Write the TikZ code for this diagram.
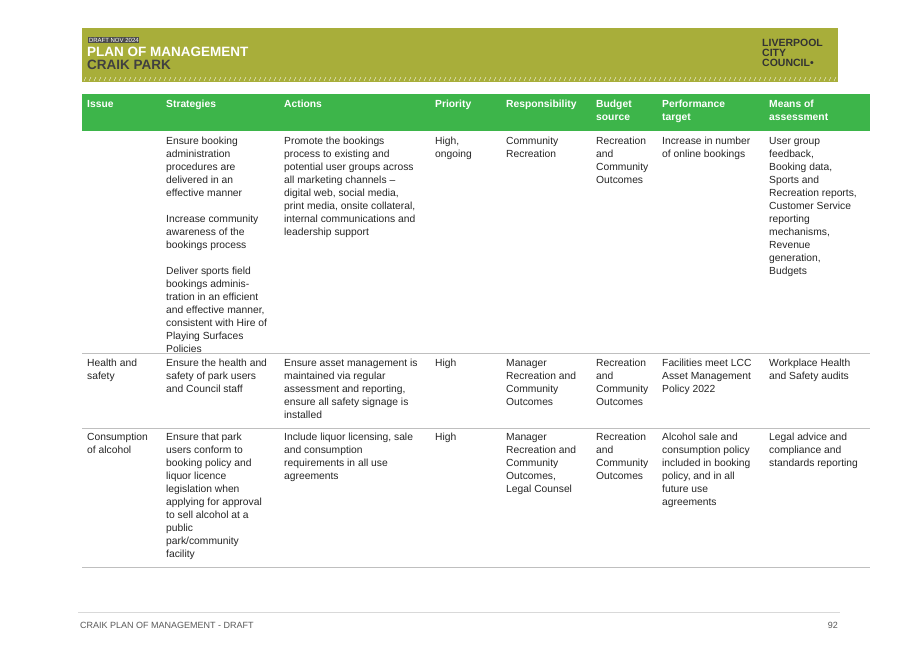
\documentclass[tikz,border=0pt]{standalone}
\usepackage{fontspec}
\setmainfont{Liberation Sans}
\begin{document}
\begin{tikzpicture}[x=1pt,y=-1pt,
 cell/.style={anchor=north west,inner sep=0pt,align=left,font=\fontsize{10.3}{13}\selectfont,text=black!85},
 hd/.style={cell,text=white,font=\fontsize{10.3}{13}\selectfont\bfseries},
 sep/.style={draw=black!25,line width=0.6pt}]
\useasboundingbox (0,0) rectangle (917,648);
\fill[white] (0,0) rectangle (917,648);
% banner
\fill[fill={rgb,255:red,168;green,174;blue,58}] (82,28) rectangle (838,82);
\foreach \i in {0,...,150} \draw[white!70!black!10,line width=0.4pt] (84+\i*5,81) -- (86+\i*5,77);
\node[fill=black!70,text=white,inner sep=0.8pt,anchor=west,font=\fontsize{6}{6}\selectfont] (draft) at (88,40) {DRAFT NOV 2024};
\node[anchor=north west,inner sep=0pt,text=white,font=\fontsize{13.5}{12}\selectfont\bfseries] (t1) at (87,47) {PLAN OF MANAGEMENT};
\node[anchor=north west,inner sep=0pt,text=black!75,font=\fontsize{13.5}{12}\selectfont\bfseries] (t2) at (87,60) {CRAIK PARK};
\node[anchor=north west,inner sep=0pt,align=left,text=black!80,font=\fontsize{10.5}{10}\selectfont\bfseries] (logo) at (762,39) {LIVERPOOL\\CITY\\COUNCIL\textbullet};
% header
\fill[fill={rgb,255:red,61;green,181;blue,74}] (82,94) rectangle (870,131);
\node[hd] (h1) at (87,100) {Issue};
\node[hd] (h2) at (166,100) {Strategies};
\node[hd] (h3) at (284,100) {Actions};
\node[hd] (h4) at (435,100) {Priority};
\node[hd] (h5) at (506,100) {Responsibility};
\node[hd] (h6) at (596,100) {Budget\\source};
\node[hd] (h7) at (662,100) {Performance\\target};
\node[hd] (h8) at (769,100) {Means of\\assessment};
% row 1
\node[cell] (r1b) at (166,137) {Ensure booking\\administration\\procedures are\\delivered in an\\effective manner\\[13pt]Increase community\\awareness of the\\bookings process\\[13pt]Deliver sports field\\bookings adminis-\\tration in an efficient\\and effective manner,\\consistent with Hire of\\Playing Surfaces\\Policies};
\node[cell] (r1c) at (284,137) {Promote the bookings\\process to existing and\\potential user groups across\\all marketing channels --\\digital web, social media,\\print media, onsite collateral,\\internal communications and\\leadership support};
\node[cell] (r1d) at (435,137) {High,\\ongoing};
\node[cell] (r1e) at (506,137) {Community\\Recreation};
\node[cell] (r1f) at (596,137) {Recreation\\and\\Community\\Outcomes};
\node[cell] (r1g) at (662,137) {Increase in number\\of online bookings};
\node[cell] (r1h) at (769,137) {User group\\feedback,\\Booking data,\\Sports and\\Recreation reports,\\Customer Service\\reporting\\mechanisms,\\Revenue\\generation,\\Budgets};
\draw[sep] (82,353) -- (870,353);
% row 2
\node[cell] (r2a) at (87,359) {Health and\\safety};
\node[cell] (r2b) at (166,359) {Ensure the health and\\safety of park users\\and Council staff};
\node[cell] (r2c) at (284,359) {Ensure asset management is\\maintained via regular\\assessment and reporting,\\ensure all safety signage is\\installed};
\node[cell] (r2d) at (435,359) {High};
\node[cell] (r2e) at (506,359) {Manager\\Recreation and\\Community\\Outcomes};
\node[cell] (r2f) at (596,359) {Recreation\\and\\Community\\Outcomes};
\node[cell] (r2g) at (662,359) {Facilities meet LCC\\Asset Management\\Policy 2022};
\node[cell] (r2h) at (769,359) {Workplace Health\\and Safety audits};
\draw[sep] (82,428) -- (870,428);
% row 3
\node[cell] (r3a) at (87,433) {Consumption\\of alcohol};
\node[cell] (r3b) at (166,433) {Ensure that park\\users conform to\\booking policy and\\liquor licence\\legislation when\\applying for approval\\to sell alcohol at a\\public\\park/community\\facility};
\node[cell] (r3c) at (284,433) {Include liquor licensing, sale\\and consumption\\requirements in all use\\agreements};
\node[cell] (r3d) at (435,433) {High};
\node[cell] (r3e) at (506,433) {Manager\\Recreation and\\Community\\Outcomes,\\Legal Counsel};
\node[cell] (r3f) at (596,433) {Recreation\\and\\Community\\Outcomes};
\node[cell] (r3g) at (662,433) {Alcohol sale and\\consumption policy\\included in booking\\policy, and in all\\future use\\agreements};
\node[cell] (r3h) at (769,433) {Legal advice and\\compliance and\\standards reporting};
\draw[sep] (82,567) -- (870,567);
% footer
\draw[draw=black!15,line width=0.5pt] (78,612) -- (840,612);
\node[anchor=west,inner sep=0pt,text=black!65,font=\fontsize{9}{10}\selectfont] (ft) at (80,625) {CRAIK PLAN OF MANAGEMENT - DRAFT};
\node[anchor=east,inner sep=0pt,text=black!65,font=\fontsize{9}{10}\selectfont] (pg) at (838,625) {92};
\end{tikzpicture}
\end{document}
